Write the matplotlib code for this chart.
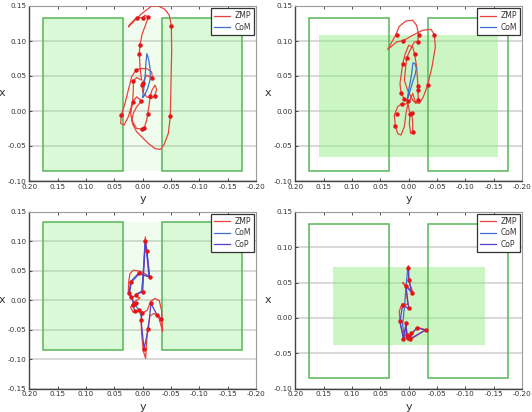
import matplotlib
matplotlib.use("Agg")
import matplotlib.pyplot as plt
from matplotlib.patches import Rectangle
import numpy as np

# ---------------- data (horizontal = y [m], vertical = x [m]) ----------------
# foot rectangles: (y_min, y_max, x_min, x_max)
foot_left = (0.035, 0.175, -0.085, 0.133)
foot_right = (-0.175, -0.035, -0.085, 0.133)
hull_p2 = (-0.158, 0.159, -0.065, 0.108)
hull_p4 = (-0.135, 0.134, -0.0376, 0.0714)

# Panel 1
zmp1_y = [0.0018, 0.0106, 0.0165, 0.0194, 0.0106, 0.0018, -0.0029, -0.0071, -0.0088, -0.0118,
          -0.0135, -0.0165, -0.0218, -0.0247, -0.0212, -0.0159, -0.0071, 0.0, 0.0012, 0.0,
          -0.0071, -0.0171, -0.0159, -0.0071, 0.0047, 0.0118, 0.0194, 0.0253, 0.0312, 0.0376,
          0.0388, 0.0329, 0.0253, 0.0176, 0.0165, 0.0165, 0.0106, 0.0018, 0.0047, 0.0059,
          0.0047, 0.0006, -0.0071, -0.0100, -0.0041, -0.0006, 0.0106, 0.0224, 0.0253, 0.0165,
          0.0018, -0.0100, -0.0159, -0.0276, -0.0394, -0.0471, -0.0506, -0.0512, -0.0500, -0.0488,
          -0.0453, -0.0382, -0.0318, -0.0224, -0.0100, 0.0018, 0.0106, 0.0176, 0.0212, 0.0176,
          0.0106, 0.0018]
zmp1_x = [0.0145, 0.0060, -0.0035, -0.0130, -0.0249, -0.0259, -0.0244, -0.0130, -0.0049, 0.0107,
          0.0221, 0.0298, 0.0369, 0.0307, 0.0221, 0.0179, 0.0202, 0.0274, 0.0378, 0.0402,
          0.0511, 0.0473, 0.0559, 0.0606, 0.0606, 0.0583, 0.0488, 0.0298, 0.0107, -0.0059,
          -0.0178, -0.0202, -0.0083, 0.0131, 0.0298, 0.0431, 0.0478, 0.0440, 0.0630, 0.0820,
          0.0949, 0.1106, 0.1272, 0.1343, 0.1367, 0.1334, 0.1334, 0.1239, 0.1201, 0.1272,
          0.1391, 0.1462, 0.1500, 0.1500, 0.1452, 0.1367, 0.1215, 0.0868, 0.0393, -0.0078,
          -0.0320, -0.0472, -0.0548, -0.0539, -0.0463, -0.0368, -0.0297, -0.0187, -0.0035, 0.0131,
          0.0202, 0.0145]
mk1_y = [0.0106, -0.0006, -0.0100, -0.0506, 0.0047, 0.0059, 0.0118, 0.0165, 0.0, 0.0012,
         -0.0171, 0.0176, 0.0024, -0.0135, -0.0212, -0.0088, 0.0376, -0.0488, 0.0018, -0.0029]
mk1_x = [0.1334, 0.1334, 0.1343, 0.1215, 0.0949, 0.0820, 0.0583, 0.0431, 0.0402, 0.0378,
         0.0473, 0.0131, 0.0145, 0.0221, 0.0221, -0.0049, -0.0059, -0.0078, -0.0259, -0.0244]
com1_y = [0.0, -0.0024, -0.0047, -0.0059, -0.0076, -0.0106, -0.0135, -0.0129, -0.0088, -0.0035, 0.0]
com1_x = [0.0193, 0.0345, 0.0535, 0.0701, 0.0820, 0.0735, 0.0583, 0.0440, 0.0321, 0.0226, 0.0193]

# Panel 2
zmp2_y = [0.0012, 0.0076, 0.0135, 0.0153, 0.0106, 0.0059, 0.0, -0.0071, -0.0106, -0.0141,
          -0.0165, -0.0165, -0.0171, -0.0129, -0.0071, 0.0018, 0.0076, 0.0035, -0.0024, -0.0100,
          -0.0159, -0.0176, -0.0141, -0.0071, 0.0047, 0.0165, 0.0235, 0.0371, 0.0212, 0.0094,
          -0.0071, -0.0247, -0.0394, -0.0453, -0.0471, -0.0412, -0.0335, -0.0259, -0.0188, -0.0118,
          -0.0071, -0.0024, 0.0047, 0.0118, 0.0194, 0.0253, 0.0235, 0.0194, 0.0135, 0.0076,
          0.0047, 0.0012, -0.0024, -0.0053, -0.0071, -0.0071, -0.0035, -0.0012, -0.0024]
zmp2_x = [0.0141, 0.0169, 0.0260, 0.0393, 0.0668, 0.0820, 0.0939, 0.0915, 0.0811, 0.0630,
          0.0355, 0.0307, 0.0155, 0.0107, 0.0155, 0.0298, 0.0440, 0.0759, 0.0868, 0.0987,
          0.0991, 0.1091, 0.1224, 0.1296, 0.1286, 0.1210, 0.1076, 0.0877, 0.0986, 0.1005,
          0.1081, 0.1153, 0.1167, 0.1091, 0.0915, 0.0630, 0.0369, 0.0202, 0.0107, 0.0131,
          0.0250, 0.0155, 0.0098, 0.0107, 0.0060, -0.0059, -0.0216, -0.0320, -0.0344, -0.0225,
          -0.0035, 0.0107, -0.0049, -0.0026, -0.0154, -0.0306, -0.0320, -0.0178, -0.0049]
mk2_y = [0.0212, 0.0094, -0.0176, -0.0453, -0.0159, -0.0106, 0.0035, 0.0106, -0.0335, -0.0165,
         -0.0165, -0.0171, 0.0135, 0.0076, 0.0118, 0.0012, 0.0212, 0.0235, -0.0024, -0.0053, -0.0071]
mk2_x = [0.1091, 0.1005, 0.1091, 0.1091, 0.0991, 0.0811, 0.0759, 0.0668, 0.0369, 0.0355,
         0.0307, 0.0155, 0.0260, 0.0169, 0.0107, 0.0141, -0.0049, -0.0216, -0.0045, -0.0026, -0.0306]
com2_y = [0.0024, 0.0, -0.0035, -0.0059, -0.0076, -0.0112, -0.0135, -0.0112, -0.0071, -0.0024, 0.0018]
com2_x = [0.0164, 0.0298, 0.0440, 0.0573, 0.0687, 0.0678, 0.0606, 0.0511, 0.0416, 0.0288, 0.0174]

# Panel 3
cop3_y = [0.0124, 0.0, -0.0047, -0.0076, -0.0124, 0.0071, 0.0212, 0.0241, 0.0200, 0.0153,
          0.0176, 0.0135, 0.0059, 0.0006, 0.0029, -0.0024, -0.0100, -0.0147, -0.0253, -0.0329]
cop3_x = [0.0094, 0.0145, 0.1016, 0.0828, 0.0390, 0.0458, 0.0316, 0.0117, 0.0060, -0.0065,
          -0.0077, -0.0191, -0.0168, -0.0225, -0.0333, -0.0822, -0.0492, -0.0054, -0.0248, -0.0316]
zmp3_y = [0.0124, 0.0018, -0.0024, -0.0047, -0.0071, -0.0100, -0.0124, -0.0071, 0.0047, 0.0165,
          0.0224, 0.0247, 0.0253, 0.0212, 0.0135, 0.0047, 0.0165, 0.0212, 0.0165, 0.0076,
          -0.0012, -0.0082, -0.0141, -0.0218, -0.0294, -0.0335, -0.0353, -0.0318, -0.0276, -0.0200,
          -0.0129, -0.0082, -0.0053, -0.0012, 0.0018, 0.0029]
zmp3_x = [0.0094, 0.0151, 0.0617, 0.1073, 0.0845, 0.0589, 0.0379, 0.0435, 0.0492, 0.0509,
          0.0447, 0.0304, 0.0134, 0.0048, 0.0071, 0.0037, -0.0037, -0.0122, -0.0208, -0.0179,
          -0.0208, -0.0168, -0.0020, 0.0031, -0.0009, -0.0179, -0.0532, -0.0407, -0.0271, -0.0225,
          -0.0265, -0.0521, -0.0987, -0.0862, -0.0578, -0.0333]
mk3_y = [-0.0047, -0.0076, -0.0124, 0.0071, 0.0212, 0.0, 0.0241, 0.0200, 0.0124, 0.0153, 0.0176,
         0.0118, 0.0135, 0.0059, 0.0006, 0.0029, -0.0147, -0.0253, -0.0329, -0.0024, -0.0100]
mk3_x = [0.0999, 0.0828, 0.0390, 0.0458, 0.0316, 0.0145, 0.0117, 0.0060, 0.0094, -0.0065, -0.0077,
         -0.0054, -0.0191, -0.0168, -0.0225, -0.0333, -0.0054, -0.0248, -0.0316, -0.0822, -0.0492]
com3_y = [0.0110, 0.0010, -0.0040, -0.0070, -0.0110, 0.0060, 0.0200, 0.0230, 0.0150, 0.0060, 0.0020]
com3_x = [0.0100, 0.0150, 0.0950, 0.0800, 0.0400, 0.0450, 0.0300, 0.0110, -0.0060, -0.0170, -0.0300]

# Panel 4
cop4_y = [0.0006, -0.0006, -0.0053, 0.0047, 0.0, 0.0106, 0.0153, 0.0094, 0.0047, 0.0035,
          -0.0024, -0.0306, -0.0141, -0.0012, 0.0018]
cop4_x = [0.0714, 0.0538, 0.0357, 0.0452, 0.0133, 0.0181, -0.0048, -0.0300, -0.0076, -0.0238,
          -0.0295, -0.0171, -0.0143, -0.0262, -0.0286]
zmp4_y = [0.0006, 0.0, -0.0071, 0.0018, 0.0106, 0.0059, 0.0012, 0.0118, 0.0165, 0.0153,
          0.0076, 0.0047, 0.0024, -0.0071, -0.0294, -0.0159, -0.0024]
zmp4_x = [0.0738, 0.0524, 0.0371, 0.0429, 0.0500, 0.0452, 0.0190, 0.0200, 0.0095, -0.0071,
          -0.0286, -0.0095, -0.0248, -0.0286, -0.0167, -0.0133, -0.0248]
mk4_y = [0.0006, -0.0006, 0.0047, -0.0053, 0.0, 0.0153, 0.0106, 0.0047, 0.0035, 0.0018, -0.0012,
         -0.0024, -0.0141, -0.0306, 0.0094, -0.0041]
mk4_x = [0.0705, 0.0538, 0.0452, 0.0357, 0.0133, -0.0048, 0.0181, -0.0076, -0.0238, -0.0286, -0.0262,
         -0.0295, -0.0143, -0.0171, -0.0300, -0.0214]
com4_y = [0.0018, 0.0047, 0.0076, 0.0106, 0.0076, -0.0012]
com4_x = [0.0690, 0.0429, 0.0143, -0.0095, -0.0286, -0.0276]

yticks_h = [0.20, 0.15, 0.10, 0.05, 0.00, -0.05, -0.10, -0.15, -0.20]

# ---------------- styling ----------------
ZMP_C = "#e8433b"
COM_C = "#3b6fd6"
COP_C = "#5a3ccf"
MK_C = "#e3151a"
EDGE_G = "#58b558"
FOOT_FILL = (0.55, 0.93, 0.50, 0.32)
MID_FILL = (0.55, 0.93, 0.50, 0.13)
HULL_FILL = (0.55, 0.93, 0.48, 0.45)

fig = plt.figure(figsize=(5.32, 4.12), dpi=100)
W, H = 532.0, 412.0
boxes = [(29.3, 6, 256, 181), (295.3, 6, 522, 181), (29.3, 211.7, 256, 388.7), (295.3, 211.7, 522, 388.7)]
axes = [fig.add_axes([l / W, 1 - b / H, (r - l) / W, (b - t) / H]) for (l, t, r, b) in boxes]


def rect(ax, r, fill, edge, z, lw=1.1):
    y0, y1, x0, x1 = r
    ax.add_patch(Rectangle((y0, x0), y1 - y0, x1 - x0, facecolor=fill if fill else "none",
                           edgecolor=edge if edge else "none", linewidth=lw, zorder=z))


def style(ax, ylim, yt):
    ax.set_xlim(0.2, -0.2)
    ax.set_ylim(*ylim)
    ax.set_xticks(yticks_h)
    ax.set_xticklabels([f"{v:.2f}" for v in yticks_h])
    ax.set_yticks(yt)
    ax.set_yticklabels([f"{v:.2f}" for v in yt])
    ax.tick_params(labelsize=5.2, colors="#333333", length=2, direction="in", width=0.6,
                   top=True, pad=2)
    for s in ["left", "bottom"]:
        ax.spines[s].set_color("#444444")
        ax.spines[s].set_linewidth(1.0)
    for s in ["top", "right"]:
        ax.spines[s].set_color("#9a9a9a")
        ax.spines[s].set_linewidth(0.8)
    for v in yt:
        ax.axhline(v, color="#d8d8d8", lw=1.4, zorder=0.5)
    ax.set_xlabel("y", fontsize=8, color="#333333", labelpad=3)
    ax.set_ylabel("x", fontsize=8, color="#333333", rotation=0, labelpad=4, va="center")


yt_a = [0.15, 0.10, 0.05, 0.00, -0.05, -0.10]
yt_b = [0.15, 0.10, 0.05, 0.00, -0.05, -0.10, -0.15]

# Panel 1
ax = axes[0]
style(ax, (-0.10, 0.15), yt_a)
rect(ax, (foot_right[1], foot_left[0], -0.085, 0.133), MID_FILL, None, 1)
rect(ax, foot_left, FOOT_FILL, EDGE_G, 2)
rect(ax, foot_right, FOOT_FILL, EDGE_G, 2)
ax.plot(zmp1_y, zmp1_x, color=ZMP_C, lw=0.9, zorder=4, label="ZMP")
ax.plot(com1_y, com1_x, color=COM_C, lw=0.9, zorder=5, label="CoM")
ax.plot(mk1_y, mk1_x, "o", color=MK_C, ms=2.2, zorder=6)

# Panel 2
ax = axes[1]
style(ax, (-0.10, 0.15), yt_a)
rect(ax, hull_p2, HULL_FILL, None, 1)
rect(ax, foot_left, None, EDGE_G, 2)
rect(ax, foot_right, None, EDGE_G, 2)
ax.plot(zmp2_y, zmp2_x, color=ZMP_C, lw=0.9, zorder=4, label="ZMP")
ax.plot(com2_y, com2_x, color=COM_C, lw=0.9, zorder=5, label="CoM")
ax.plot(mk2_y, mk2_x, "o", color=MK_C, ms=2.2, zorder=6)

# Panel 3
ax = axes[2]
style(ax, (-0.15, 0.15), yt_b)
rect(ax, (foot_right[1], foot_left[0], -0.085, 0.133), MID_FILL, None, 1)
rect(ax, foot_left, FOOT_FILL, EDGE_G, 2)
rect(ax, foot_right, FOOT_FILL, EDGE_G, 2)
ax.plot(zmp3_y, zmp3_x, color=ZMP_C, lw=0.9, zorder=4, label="ZMP")
ax.plot(com3_y, com3_x, color=COM_C, lw=0.9, zorder=4.5, label="CoM")
ax.plot(cop3_y, cop3_x, color=COP_C, lw=0.9, zorder=5, label="CoP")
ax.plot(mk3_y, mk3_x, "o", color=MK_C, ms=2.2, zorder=6)

# Panel 4
ax = axes[3]
style(ax, (-0.10, 0.15), yt_a)
rect(ax, hull_p4, HULL_FILL, None, 1)
rect(ax, foot_left, None, EDGE_G, 2)
rect(ax, foot_right, None, EDGE_G, 2)
ax.plot(zmp4_y, zmp4_x, color=ZMP_C, lw=0.9, zorder=4, label="ZMP")
ax.plot(com4_y, com4_x, color=COM_C, lw=0.9, zorder=4.5, label="CoM")
ax.plot(cop4_y, cop4_x, color=COP_C, lw=0.9, zorder=5, label="CoP")
ax.plot(mk4_y, mk4_x, "o", color=MK_C, ms=2.2, zorder=6)

for ax in axes:
    leg = ax.legend(loc="upper right", fontsize=5.5, frameon=True, fancybox=False,
                    handlelength=2.0, borderaxespad=0.3, borderpad=0.4, labelspacing=0.3,
                    handletextpad=0.6, framealpha=1.0)
    leg.get_frame().set_edgecolor("#333333")
    leg.get_frame().set_linewidth(0.9)
    leg.set_zorder(10)
    for t in leg.get_texts():
        t.set_color("#333333")

fig.savefig("out.png", dpi=100)
